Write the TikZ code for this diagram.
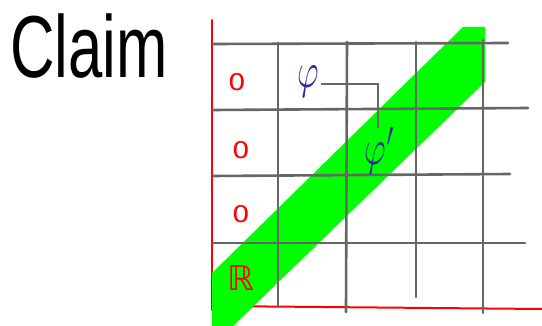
\documentclass[tikz,border=0pt]{standalone}
\usepackage{fontspec}
\setmainfont{Liberation Sans}
\newfontfamily\djv{DejaVu Sans}
\definecolor{gridgray}{HTML}{666666}
\definecolor{bandgreen}{HTML}{00FF00}
\definecolor{phiblue}{HTML}{2E2E96}
\begin{document}
\begin{tikzpicture}[x=1pt,y=-1pt,
  gridline/.style={draw=gridgray,line width=2.6pt,line cap=round},
  axis/.style={draw=red,line width=2pt,line cap=round},
  zero/.style={text=red,font=\djv\fontsize{23}{23}\selectfont,inner sep=0pt},
  sym/.style={text=phiblue,inner sep=0pt,font=\fontsize{10}{10}\selectfont},
  link/.style={draw=gridgray,line width=2pt}]
\useasboundingbox (0,0) rectangle (542,326);
% axes
\draw[axis] (212,20) -- (212,310);
\draw[axis] (212,306) -- (542,309);
% green band
\fill[bandgreen] (212,273) -- (463,27) -- (485,27) -- (485,82) -- (233,326) -- (212,326) -- cycle;
% grid
\draw[gridline] (213,44) -- (508,43);
\draw[gridline] (213,110) -- (528,108);
\draw[gridline] (213,176) -- (510,174);
\draw[gridline] (213,243) -- (525,243);
\draw[gridline] (278,43) -- (278,307);
\draw[gridline] (347,42) -- (346,312);
\draw[gridline] (416,42) -- (416,297);
\draw[gridline] (483,40) -- (483,313);
% title
\node[anchor=base west,inner sep=0pt,font=\fontsize{88}{88}\selectfont] (claim) at (10,78) {\scalebox{0.7}[1]{Claim}};
% entries
\node[zero] (z1) at (237,82) {\scalebox{1.2}[1]{0}};
\node[zero] (z2) at (241,150) {\scalebox{1.2}[1]{0}};
\node[zero] (z3) at (241,214) {\scalebox{1.2}[1]{0}};
\node[text=red,inner sep=0pt,font=\djv\fontsize{34}{34}\selectfont] (R) at (241,278) {ℝ};
\node[sym] (phi) at (308,82) {\scalebox{3.3}[5]{$\varphi$}};
\node[sym] (phip) at (380,151) {\scalebox{3.3}[5]{$\varphi'$}};
\draw[link] (phi.east) ++(2,2) coordinate (s) -- (s -| 378,0) -- (378,128);
\end{tikzpicture}
\end{document}
